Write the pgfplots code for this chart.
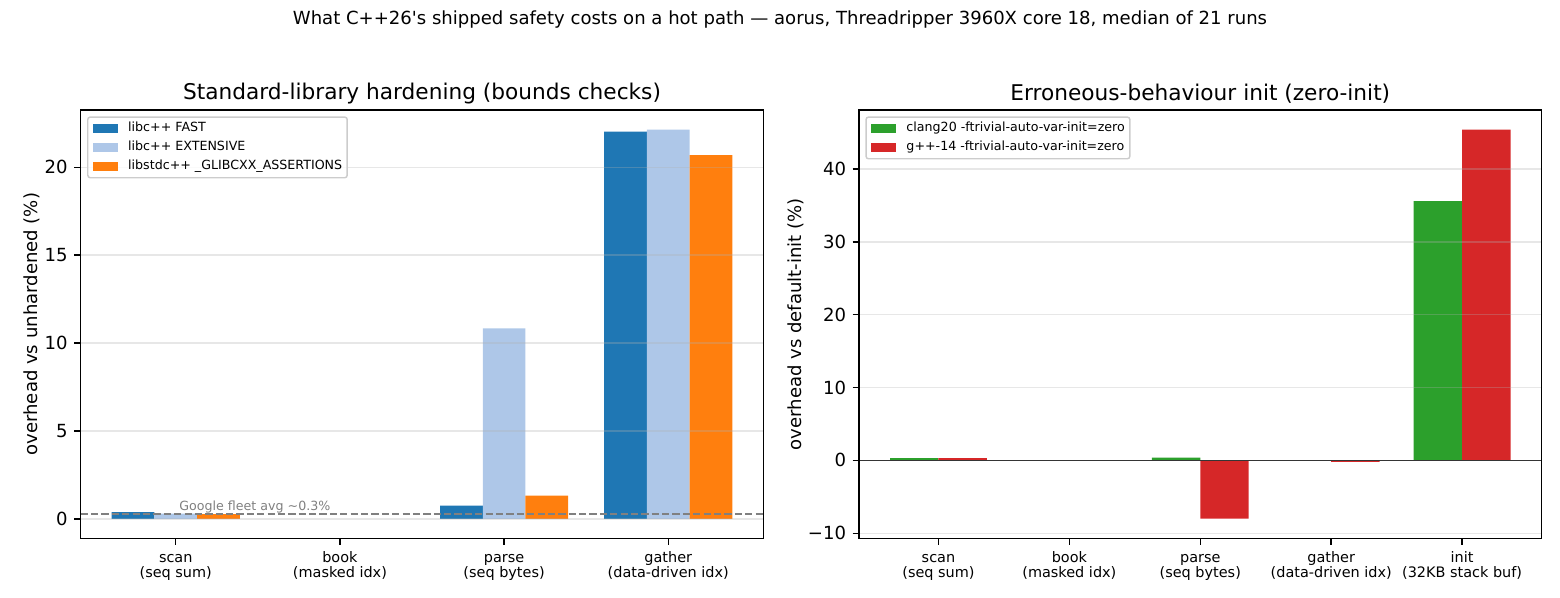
\documentclass[border=0pt]{standalone}
\usepackage{fontspec}
\setmainfont{DejaVu Sans}
\usepackage{pgfplots}
\pgfplotsset{compat=1.18}

\definecolor{cFast}{HTML}{1F77B4}
\definecolor{cExt}{HTML}{AEC7E8}
\definecolor{cGlib}{HTML}{FF7F0E}
\definecolor{cClang}{HTML}{2CA02C}
\definecolor{cGcc}{HTML}{D62728}
\definecolor{cGrid}{HTML}{B0B0B0}
\definecolor{cRef}{HTML}{808080}
\definecolor{cFrame}{HTML}{CCCCCC}

\pgfplotsset{
  panel/.style={
    scale only axis,
    width=378.05pt, height=237.2pt,
    axis on top,
    axis line style={line width=0.8pt, black},
    tick pos=left,
    tick align=outside,
    major tick length=3.5pt,
    every tick/.style={black, line width=0.8pt},
    xtick={0,1,2,3,4},
    xticklabel style={font=\fontsize{8}{8.6}\selectfont, align=center, inner sep=0pt},
    yticklabel style={font=\fontsize{10}{12}\selectfont, inner sep=0pt},
    xticklabel shift=3.5pt,
    yticklabel shift=3.5pt,
    ymajorgrids,
    major grid style={draw=cGrid, draw opacity=0.3, line width=0.8pt},
    every axis title/.style={font=\fontsize{12}{14.4}\selectfont, at={(axis description cs:0.5,1)}, anchor=south, yshift=3.3pt, inner sep=0pt},
    legend cell align=left,
    legend image code/.code={\fill[##1, sharp corners, fill opacity=1] (0pt,-2.45pt) rectangle (14pt,2.45pt);},
    legend style={
      at={(0,1)}, anchor=north west, xshift=3.5pt, yshift=-3.5pt,
      font=\fontsize{7}{8.4}\selectfont,
      draw=cFrame, line width=0.8pt, fill=white, fill opacity=0.8, text opacity=1,
      rounded corners=1.4pt,
      inner sep=2.8pt, row sep=3.5pt, column sep=5.6pt,
      nodes={inner sep=0pt, text height=5.3pt, text depth=1.7pt},
    },
  },
  bar/.style={ybar, draw=none, fill=#1},
}

\begin{document}
\begin{tikzpicture}
\path[use as bounding box] (0pt,0pt) rectangle (864pt,331.2pt);

\node[anchor=base, font=\fontsize{10}{12}\selectfont, inner sep=0pt] at (432pt,317.6pt)
  {What C++26\textquotesingle s shipped safety costs on a hot path — aorus, Threadripper 3960X core 18, median of 21 runs};

% Left panel: library hardening modes (book has no hardening cost, so no bars)
\begin{axis}[panel,
  at={(44.7pt,33.06pt)}, anchor=south west,
  xmin=-0.579, xmax=3.579,
  ymin=-1.11, ymax=23.26,
  ytick={0,5,10,15,20},
  yticklabels={0,5,10,15,20},
  xticklabels={{\vphantom{k}scan\\(seq sum)},{\vphantom{k}book\\(masked idx)},{\vphantom{k}parse\\(seq bytes)},{\vphantom{k}gather\\(data-driven idx)}},
  title={Standard-library hardening (bounds checks)},
  ylabel={overhead vs unhardened (\%)},
  every axis y label/.style={at={(axis description cs:-0.0598,0.5)}, rotate=90, anchor=south, inner sep=0pt, font=\fontsize{10}{12}\selectfont},
]
\addplot[bar=cFast, bar width=0.26, bar shift=-0.26] coordinates {(0,0.38) (2,0.75) (3,22.03)};
\addlegendentry{libc++ FAST}
\addplot[bar=cExt, bar width=0.26, bar shift=0] coordinates {(0,0.30) (2,10.83) (3,22.15)};
\addlegendentry{libc++ EXTENSIVE}
\addplot[bar=cGlib, bar width=0.26, bar shift=0.26] coordinates {(0,0.26) (2,1.32) (3,20.69)};
\addlegendentry{libstdc++ \_GLIBCXX\_ASSERTIONS}
\addplot[forget plot, cRef, line width=1.1pt, dash pattern=on 4pt off 1.75pt] coordinates {(-0.579,0.3) (3.579,0.3)};
\node[anchor=base west, inner sep=0pt, font=\fontsize{7}{8.4}\selectfont, text=cRef] at (axis cs:0.02,0.45) {Google fleet avg \textasciitilde0.3\%};
\end{axis}

% Right panel: zero-init of automatic variables
\begin{axis}[panel,
  at={(475.75pt,33.06pt)}, anchor=south west,
  xmin=-0.607, xmax=4.607,
  ymin=-10.69, ymax=48.09,
  ytick={-10,0,10,20,30,40},
  yticklabels={−10,0,10,20,30,40},
  xticklabels={{\vphantom{k}scan\\(seq sum)},{\vphantom{k}book\\(masked idx)},{\vphantom{k}parse\\(seq bytes)},{\vphantom{k}gather\\(data-driven idx)},{\vphantom{k}init\\(32KB stack buf)}},
  title={Erroneous-behaviour init (zero-init)},
  ylabel={overhead vs default-init (\%)},
  every axis y label/.style={at={(axis description cs:-0.0809,0.5)}, rotate=90, anchor=south, inner sep=0pt, font=\fontsize{10}{12}\selectfont},
]
\addplot[bar=cClang, bar width=0.37, bar shift=-0.185] coordinates {(0,0.3) (2,0.4) (3,-0.05) (4,35.6)};
\addlegendentry{clang20 -ftrivial-auto-var-init=zero}
\addplot[bar=cGcc, bar width=0.37, bar shift=0.185] coordinates {(0,0.3) (2,-8.0) (3,-0.2) (4,45.4)};
\addlegendentry{g++-14 -ftrivial-auto-var-init=zero}
\addplot[forget plot, black, line width=0.8pt] coordinates {(-0.607,0) (4.607,0)};
\end{axis}
\end{tikzpicture}
\end{document}
